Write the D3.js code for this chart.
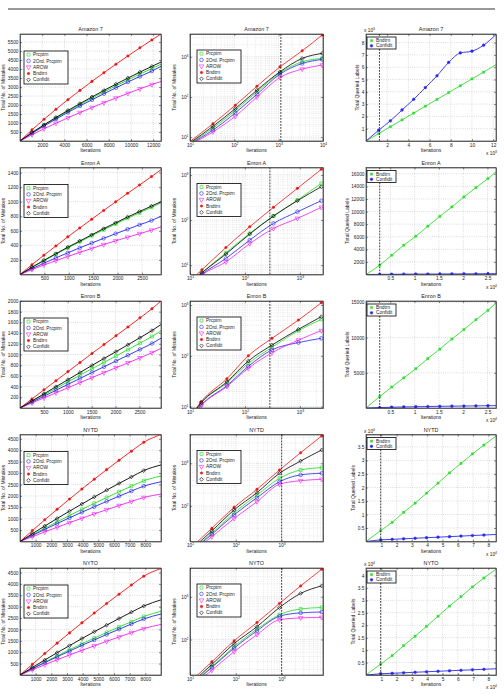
<!DOCTYPE html>
<html>
<head>
<meta charset="utf-8">
<script src="https://cdn.jsdelivr.net/npm/d3@7"></script>
<style>
  body { margin: 0; background: #fff; }
  svg { font-family: "Liberation Sans", Arial, sans-serif; }
</style>
</head>
<body>
<script>
// ---------------- data ----------------
const titles = ["Amazon 7", "Enron A", "Enron B", "NYTD", "NYTO"];
const algNames = ["Prcptrn", "2Ord. Prcptrn", "AROW", "Bndtrn", "Confidit"];
const qNames = ["Bndtrn", "Confidit"];

// column 1: total mistakes vs iterations (linear axes)
const amzIter = [0, 1080, 2160, 3240, 4320, 5400, 6480, 7560, 8640, 9720, 10800, 11880, 12700];
const amzPrc  = [0, 450, 870, 1270, 1650, 2020, 2380, 2730, 3070, 3400, 3720, 4030, 4270];
const amzOrd  = [0, 430, 830, 1220, 1590, 1950, 2290, 2630, 2960, 3280, 3590, 3890, 4150];
const amzArow = [0, 350, 680, 990, 1290, 1580, 1860, 2130, 2390, 2650, 2900, 3140, 3310];
const amzBnd  = [0, 620, 1205, 1765, 2300, 2815, 3315, 3800, 4270, 4730, 5180, 5620, 5950];
const amzConf = [0, 470, 900, 1310, 1700, 2080, 2450, 2810, 3160, 3500, 3830, 4150, 4390];

const enaIter = [0, 245, 490, 735, 980, 1225, 1470, 1715, 1960, 2205, 2450, 2695, 2890];
const enaPrc  = [0, 95, 188, 278, 365, 450, 533, 615, 695, 772, 848, 922, 985];
const enaOrd  = [0, 80, 155, 228, 298, 366, 432, 497, 560, 622, 683, 742, 800];
const enaArow = [0, 68, 130, 190, 248, 304, 358, 411, 462, 512, 561, 609, 655];
const enaBnd  = [0, 135, 265, 392, 517, 640, 760, 880, 998, 1115, 1230, 1345, 1440];
const enaConf = [0, 100, 195, 285, 375, 460, 545, 630, 710, 790, 865, 940, 1000];

const enbIter = [0, 251, 502, 753, 1004, 1255, 1506, 1757, 2008, 2259, 2510, 2761, 2950];
const enbPrc  = [0, 122, 245, 367, 490, 612, 734, 853, 972, 1091, 1213, 1336, 1444];
const enbOrd  = [0, 110, 221, 331, 442, 552, 663, 770, 878, 985, 1095, 1206, 1305];
const enbArow = [0, 95, 189, 284, 379, 473, 568, 660, 752, 844, 938, 1033, 1114];
const enbBnd  = [0, 170, 340, 510, 680, 850, 1020, 1185, 1350, 1515, 1685, 1855, 2000];
const enbConf = [0, 133, 265, 398, 530, 663, 795, 925, 1053, 1182, 1314, 1447, 1560];

const nydIter = [0, 790, 1580, 2370, 3160, 3950, 4740, 5530, 6320, 7110, 7900, 9000];
const nydPrc  = [0, 294, 581, 863, 1138, 1408, 1671, 1928, 2179, 2424, 2662, 2870];
const nydOrd  = [0, 268, 530, 787, 1038, 1283, 1523, 1758, 1986, 2210, 2427, 2618];
const nydArow = [0, 213, 421, 625, 824, 1019, 1209, 1395, 1577, 1754, 1927, 2080];
const nydBnd  = [0, 480, 950, 1410, 1860, 2300, 2730, 3150, 3560, 3960, 4350, 4690];
const nydConf = [0, 343, 679, 1008, 1330, 1645, 1952, 2252, 2545, 2831, 3110, 3355];

const nyoIter = [0, 790, 1580, 2370, 3160, 3950, 4740, 5530, 6320, 7110, 7900, 9000];
const nyoPrc  = [0, 290, 570, 840, 1110, 1370, 1620, 1870, 2110, 2340, 2570, 2800];
const nyoOrd  = [0, 275, 540, 800, 1050, 1300, 1540, 1780, 2010, 2240, 2460, 2680];
const nyoArow = [0, 230, 450, 670, 880, 1080, 1280, 1480, 1670, 1860, 2040, 2220];
const nyoBnd  = [0, 470, 940, 1400, 1850, 2290, 2720, 3140, 3550, 3950, 4340, 4680];
const nyoConf = [0, 330, 660, 980, 1290, 1600, 1900, 2190, 2480, 2760, 3030, 3300];

// column 2: same measure on log-log axes
const amzLogIter = [10, 33, 105, 324, 1070, 3390, 9550];
const amzLogPrc  = [7.0, 16.8, 46, 134, 398, 750, 912];
const amzLogOrd  = [6.8, 15, 40, 117, 370, 683, 860];
const amzLogArow = [6.5, 13.5, 33, 100, 306, 494, 620];
const amzLogBnd  = [7.8, 21.6, 62, 185, 562, 1410, 3480];
const amzLogConf = [7.2, 18.6, 51, 148, 422, 912, 1217];

const enaLogIter = [10, 16.5, 45, 122, 330, 900, 2450];
const enaLogPrc  = [4, 6.8, 18.8, 50.6, 123, 278, 654];
const enaLogOrd  = [3.8, 6.3, 14.1, 36, 84.4, 153, 269];
const enaLogArow = [3.6, 6.1, 11.8, 30, 65, 109, 192];
const enaLogBnd  = [4.5, 7.9, 24.6, 71, 192, 506, 1340];
const enaLogConf = [4, 6.8, 17.6, 49, 123, 269, 550];

const enbLogIter = [10, 16, 47, 115, 310, 940, 2450];
const enbLogPrc  = [6, 11.8, 29.5, 71, 147, 313, 523];
const enbLogOrd  = [5.8, 10.8, 26, 62, 131, 182, 221];
const enbLogArow = [5.6, 10.5, 25, 57, 115, 204, 313];
const enbLogBnd  = [6, 12.5, 35.5, 100, 221, 506, 1110];
const enbLogConf = [6, 12, 30.8, 79, 163, 332, 590];

const nydLogIter = [10, 30, 92, 290, 900, 2600, 7500];
const nydLogPrc  = [8.5, 23, 69, 180, 445, 697, 790];
const nydLogOrd  = [8, 21.6, 62, 156, 370, 535, 584];
const nydLogArow = [7.5, 19, 51, 126, 323, 391, 422];
const nydLogBnd  = [10, 30, 93, 246, 697, 1770, 4370];
const nydLogConf = [9, 26, 81, 205, 584, 1130, 2050];

const nyoLogIter = [10, 30, 92, 290, 900, 2600, 7500];
const nyoLogPrc  = [8.5, 23, 68, 175, 380, 520, 560];
const nyoLogOrd  = [8, 22, 63, 160, 350, 420, 440];
const nyoLogArow = [7.5, 19, 52, 130, 290, 320, 330];
const nyoLogBnd  = [10, 30, 93, 250, 700, 1800, 4400];
const nyoLogConf = [9, 26, 80, 200, 560, 1200, 1800];

// column 3: total queried labels
const amzQIter = [0, 1200, 2300, 3400, 4500, 5600, 6700, 7800, 8900, 10000, 11100, 12270];
const amzQBnd  = [0, 605, 1160, 1715, 2270, 2830, 3380, 3940, 4490, 5050, 5600, 6200];
const amzQConf = [0, 880, 1640, 2520, 3390, 4340, 5300, 6390, 7160, 7300, 7790, 8660];

const enQIter  = [0, 2820, 5295, 7770, 10245, 12720, 15195, 17670, 20145, 22620, 25095, 26750];
const enaQBnd  = [0, 1480, 3060, 4650, 6080, 7670, 9250, 10730, 12320, 13810, 15240, 16300];
const enaQConf = [0, 20, 35, 50, 60, 70, 80, 90, 100, 110, 120, 130];
const enbQBnd  = [0, 1630, 2980, 4280, 5580, 7020, 8360, 9800, 11140, 12540, 13880, 14900];
const enbQConf = [0, 60, 110, 150, 180, 210, 240, 260, 280, 300, 320, 340];

const nyQIter  = [0, 9600, 17100, 24600, 32100, 39600, 47100, 54600, 62100, 69600, 77100, 85000];
const nydQBnd  = [0, 4000, 7100, 10800, 14200, 17900, 21600, 25400, 28900, 32400, 35700, 39000];
const nydQConf = [0, 600, 800, 1000, 1200, 1400, 1600, 1800, 2000, 2200, 2400, 2600];
const nyoQBnd  = [0, 4400, 7800, 11800, 15600, 19600, 23600, 27700, 31500, 35400, 39000, 42500];
const nyoQConf = [0, 500, 700, 900, 1100, 1300, 1500, 1700, 1900, 2100, 2300, 2500];

// tick values
const amzXT = [2000, 4000, 6000, 8000, 10000, 12000];
const amzYT = [500, 1000, 1500, 2000, 2500, 3000, 3500, 4000, 4500, 5000, 5500];
const enXT  = [500, 1000, 1500, 2000, 2500];
const enaYT = [200, 400, 600, 800, 1000, 1200, 1400];
const enbYT = [200, 400, 600, 800, 1000, 1200, 1400, 1600, 1800, 2000];
const nyXT  = [1000, 2000, 3000, 4000, 5000, 6000, 7000, 8000];
const nyYT  = [500, 1000, 1500, 2000, 2500, 3000, 3500, 4000, 4500];

const amzQXT = [2000, 4000, 6000, 8000, 10000, 12000];
const amzQYT = [1000, 2000, 3000, 4000, 5000, 6000, 7000, 8000];
const enQXT  = [5000, 10000, 15000, 20000, 25000];
const enaQYT = [2000, 4000, 6000, 8000, 10000, 12000, 14000, 16000];
const enbQYT = [5000, 10000, 15000];
const nyQXT  = [10000, 20000, 30000, 40000, 50000, 60000, 70000, 80000];
const nydQYT = [5000, 10000, 15000, 20000, 25000, 30000, 35000];
const nyoQYT = [5000, 10000, 15000, 20000, 25000, 30000, 35000, 40000];

// threshold markers (dashed vertical lines)
const logCut = [1120, 284, 284, 1000, 1000];
const qCut   = [1270, 2820, 2820, 9600, 9600];

// ---------------- layout ----------------
const svg = d3.select("body").append("svg").attr("width", 504).attr("height", 694);

const colL = [20, 190, 366], colR = [161, 323, 496];
const rowT = [34, 167.5, 301, 434.5, 568], PH = 107;
const FS = 4.8;

svg.append("line").attr("x1", 8).attr("x2", 495).attr("y1", 9).attr("y2", 9)
   .attr("stroke", "#333").attr("stroke-width", 1.2);

const styles = [
  {color: "#22dd22", sym: d3.symbolSquare,   size: 9,  fill: false, rot: 0},
  {color: "#2323ee", sym: d3.symbolCircle,   size: 10, fill: false, rot: 0},
  {color: "#ee22ee", sym: d3.symbolTriangle, size: 9,  fill: false, rot: 180},
  {color: "#ee1515", sym: d3.symbolCircle,   size: 5,  fill: true,  rot: 0},
  {color: "#000000", sym: d3.symbolSquare,   size: 7,  fill: false, rot: 45}
];
const qStyles = [
  {color: "#33dd33", sym: d3.symbolSquare, size: 5, fill: true, rot: 0},
  {color: "#2a2aee", sym: d3.symbolCircle, size: 6, fill: true, rot: 0}
];

const col1 = [
  {it: amzIter, ys: [amzPrc, amzOrd, amzArow, amzBnd, amzConf], xd: [0, 12700], yd: [0, 5950], xt: amzXT, yt: amzYT},
  {it: enaIter, ys: [enaPrc, enaOrd, enaArow, enaBnd, enaConf], xd: [0, 2890], yd: [0, 1470], xt: enXT, yt: enaYT},
  {it: enbIter, ys: [enbPrc, enbOrd, enbArow, enbBnd, enbConf], xd: [0, 2950], yd: [0, 2000], xt: enXT, yt: enbYT},
  {it: nydIter, ys: [nydPrc, nydOrd, nydArow, nydBnd, nydConf], xd: [0, 9000], yd: [0, 4690], xt: nyXT, yt: nyYT},
  {it: nyoIter, ys: [nyoPrc, nyoOrd, nyoArow, nyoBnd, nyoConf], xd: [0, 9000], yd: [0, 4700], xt: nyXT, yt: nyYT}
];
const col2 = [
  {it: amzLogIter, ys: [amzLogPrc, amzLogOrd, amzLogArow, amzLogBnd, amzLogConf], xd: [10, 10000], yd: [8, 3700]},
  {it: enaLogIter, ys: [enaLogPrc, enaLogOrd, enaLogArow, enaLogBnd, enaLogConf], xd: [10, 2630], yd: [6.2, 1470]},
  {it: enbLogIter, ys: [enbLogPrc, enbLogOrd, enbLogArow, enbLogBnd, enbLogConf], xd: [10, 2630], yd: [9.4, 1200]},
  {it: nydLogIter, ys: [nydLogPrc, nydLogOrd, nydLogArow, nydLogBnd, nydLogConf], xd: [10, 8000], yd: [14.7, 4730]},
  {it: nyoLogIter, ys: [nyoLogPrc, nyoLogOrd, nyoLogArow, nyoLogBnd, nyoLogConf], xd: [10, 8000], yd: [14.7, 4730]}
];
const col3 = [
  {it: amzQIter, ys: [amzQBnd, amzQConf], xd: [0, 12270], yd: [0, 8700], xt: amzQXT, yt: amzQYT, xe: 3, ye: 3},
  {it: enQIter, ys: [enaQBnd, enaQConf], xd: [0, 26750], yd: [0, 17000], xt: enQXT, yt: enaQYT, xe: 4, ye: 0},
  {it: enQIter, ys: [enbQBnd, enbQConf], xd: [0, 26750], yd: [0, 15200], xt: enQXT, yt: enbQYT, xe: 4, ye: 0},
  {it: nyQIter, ys: [nydQBnd, nydQConf], xd: [0, 85000], yd: [0, 39600], xt: nyQXT, yt: nydQYT, xe: 4, ye: 4},
  {it: nyQIter, ys: [nyoQBnd, nyoQConf], xd: [0, 85000], yd: [0, 43000], xt: nyQXT, yt: nyoQYT, xe: 4, ye: 4}
];

function drawMarker(sel, s, cx, cy) {
  sel.append("path")
     .attr("d", d3.symbol().type(s.sym).size(s.size)())
     .attr("transform", `translate(${cx},${cy}) rotate(${s.rot})`)
     .attr("fill", s.fill ? s.color : "none")
     .attr("stroke", s.color)
     .attr("stroke-width", s.fill ? 0.4 : 0.6);
}
function pow10Label(sel, e) {
  sel.text("10").append("tspan").attr("dy", -2).attr("font-size", 3.4).text(e);
}
function fmt(d, e) {
  return e ? String(+(d / Math.pow(10, e)).toFixed(2)) : String(d);
}

let clipId = 0;
function panel(p, col, row, kind) {
  const l = colL[col], r = colR[col], t = rowT[row], b = t + PH;
  const g = svg.append("g");
  const logs = kind === "log";
  const x = (logs ? d3.scaleLog() : d3.scaleLinear()).domain(p.xd).range([l, r]);
  const y = (logs ? d3.scaleLog() : d3.scaleLinear()).domain(p.yd).range([b, t]);

  const isDecade = d => Math.abs(Math.log10(d) - Math.round(Math.log10(d))) < 1e-9;
  const xt = logs ? x.ticks().filter(isDecade) : p.xt;
  const yt = logs ? y.ticks().filter(isDecade) : p.yt;

  // grid
  const grid = g.append("g").attr("stroke-dasharray", "0.8,1.4").attr("fill", "none");
  const gx = logs ? x.ticks() : xt, gy = logs ? y.ticks() : yt;
  grid.selectAll(".gx").data(gx).join("line")
      .attr("x1", d => x(d)).attr("x2", d => x(d)).attr("y1", t).attr("y2", b)
      .attr("stroke", d => logs && !xt.includes(d) ? "#c8c8c8" : "#a8a8a8").attr("stroke-width", 0.5);
  grid.selectAll(".gy").data(gy).join("line")
      .attr("y1", d => y(d)).attr("y2", d => y(d)).attr("x1", l).attr("x2", r)
      .attr("stroke", d => logs && !yt.includes(d) ? "#c8c8c8" : "#a8a8a8").attr("stroke-width", 0.5);

  // axes
  const xf = logs ? (() => "") : (kind === "q" ? (d => fmt(d, p.xe)) : (d => d));
  const yf = logs ? (() => "") : (kind === "q" ? (d => fmt(d, p.ye)) : (d => d));
  const ax = g.append("g").attr("transform", `translate(0,${b})`)
      .call(d3.axisBottom(x).tickValues(xt).tickFormat(xf).tickSizeInner(-2).tickSizeOuter(0).tickPadding(2.2));
  const ay = g.append("g").attr("transform", `translate(${l},0)`)
      .call(d3.axisLeft(y).tickValues(yt).tickFormat(yf).tickSizeInner(-2).tickSizeOuter(0).tickPadding(1.5));
  g.append("g").attr("transform", `translate(0,${t})`)
      .call(d3.axisTop(x).tickValues(xt).tickFormat("").tickSizeInner(-2).tickSizeOuter(0));
  g.append("g").attr("transform", `translate(${r},0)`)
      .call(d3.axisRight(y).tickValues(yt).tickFormat("").tickSizeInner(-2).tickSizeOuter(0));
  if (logs) {
    ax.selectAll(".tick text").each(function(d) { pow10Label(d3.select(this), Math.round(Math.log10(d))); });
    ay.selectAll(".tick text").each(function(d) { pow10Label(d3.select(this), Math.round(Math.log10(d))); });
  }
  g.selectAll(".domain").attr("stroke", "#222").attr("stroke-width", 0.6);
  g.selectAll(".tick line").attr("stroke", "#222").attr("stroke-width", 0.5);
  g.selectAll(".tick text").attr("font-size", FS).attr("fill", "#222").attr("font-family", null);

  // widest y tick label, used to place the y axis title
  let maxW = 0;
  ay.selectAll(".tick text").each(function() { maxW = Math.max(maxW, this.getBBox().width); });

  // clip
  const cid = "clip" + (clipId++);
  g.append("clipPath").attr("id", cid).append("rect")
   .attr("x", l).attr("y", t).attr("width", r - l).attr("height", b - t);
  const plot = g.append("g").attr("clip-path", `url(#${cid})`);

  const sty = kind === "q" ? qStyles : styles;
  const line = d3.line().x((d, i) => x(p.it[i])).y(d => y(d)).curve(d3.curveMonotoneX);
  p.ys.forEach((ys, k) => {
    const s = sty[k];
    plot.append("path").datum(ys).attr("d", line)
        .attr("fill", "none").attr("stroke", s.color).attr("stroke-width", logs ? 0.8 : 0.9);
    const from = logs ? 0 : 1, to = logs ? ys.length : ys.length - 1;
    for (let i = from; i < to; i++) drawMarker(plot, s, x(p.it[i]), y(ys[i]));
  });

  // dashed threshold line
  if (kind !== "lin") {
    const cut = kind === "log" ? logCut[row] : qCut[row];
    plot.append("line").attr("x1", x(cut)).attr("x2", x(cut)).attr("y1", t).attr("y2", b)
        .attr("stroke", "#111").attr("stroke-width", 0.8).attr("stroke-dasharray", "1.8,1.2");
  }

  // box
  g.append("rect").attr("x", l).attr("y", t).attr("width", r - l).attr("height", b - t)
   .attr("fill", "none").attr("stroke", "#222").attr("stroke-width", 0.6);

  // legend
  const names = kind === "q" ? qNames : algNames;
  const lg = kind === "q" ? {x: l + 1, y: t + 3, w: 29, h: 12, dy: 5.2}
           : kind === "log" ? {x: l + 7, y: t + 16, w: 44, h: 33, dy: 6.3}
           : {x: l + 4, y: t + 17, w: 44, h: 33, dy: 6.3};
  const leg = g.append("g");
  leg.append("rect").attr("x", lg.x).attr("y", lg.y).attr("width", lg.w).attr("height", lg.h)
     .attr("fill", "#fff").attr("stroke", "#000").attr("stroke-width", 0.8);
  names.forEach((n, i) => {
    const cy = lg.y + 3.6 + lg.dy * i;
    drawMarker(leg, sty[i], lg.x + 4.5, cy);
    leg.append("text").attr("x", lg.x + 9).attr("y", cy + 1.6)
       .attr("font-size", FS).attr("fill", "#222").text(n);
  });

  // exponent multipliers
  if (kind === "q") {
    if (p.ye) {
      const m = g.append("text").attr("x", l - 2).attr("y", t - 2).attr("font-size", FS).attr("fill", "#222");
      m.text("x 10").append("tspan").attr("dy", -2).attr("font-size", 3.4).text(p.ye);
    }
    if (p.xe) {
      const m = g.append("text").attr("x", r - 10).attr("y", b + 14).attr("font-size", FS).attr("fill", "#222");
      m.text("x 10").append("tspan").attr("dy", -2).attr("font-size", 3.4).text(p.xe);
    }
  }

  // titles / labels
  g.append("text").attr("x", (l + r) / 2).attr("y", t - 3).attr("text-anchor", "middle")
   .attr("font-size", 5.4).attr("fill", "#222").text(titles[row]);
  g.append("text").attr("x", (l + r) / 2).attr("y", b + 11).attr("text-anchor", "middle")
   .attr("font-size", 5).attr("fill", "#222").text("Iterations");
  const ylx = l - 1.5 - maxW - (logs ? 5 : 2.2);
  g.append("text").attr("transform", `translate(${ylx},${(t + b) / 2}) rotate(-90)`)
   .attr("text-anchor", "middle").attr("font-size", 5).attr("fill", "#222")
   .text(kind === "q" ? "Total Queried Labels" : "Total No. of Mistakes");
}

for (let row = 0; row < 5; row++) {
  panel(col1[row], 0, row, "lin");
  panel(col2[row], 1, row, "log");
  panel(col3[row], 2, row, "q");
}
</script>
</body>
</html>
